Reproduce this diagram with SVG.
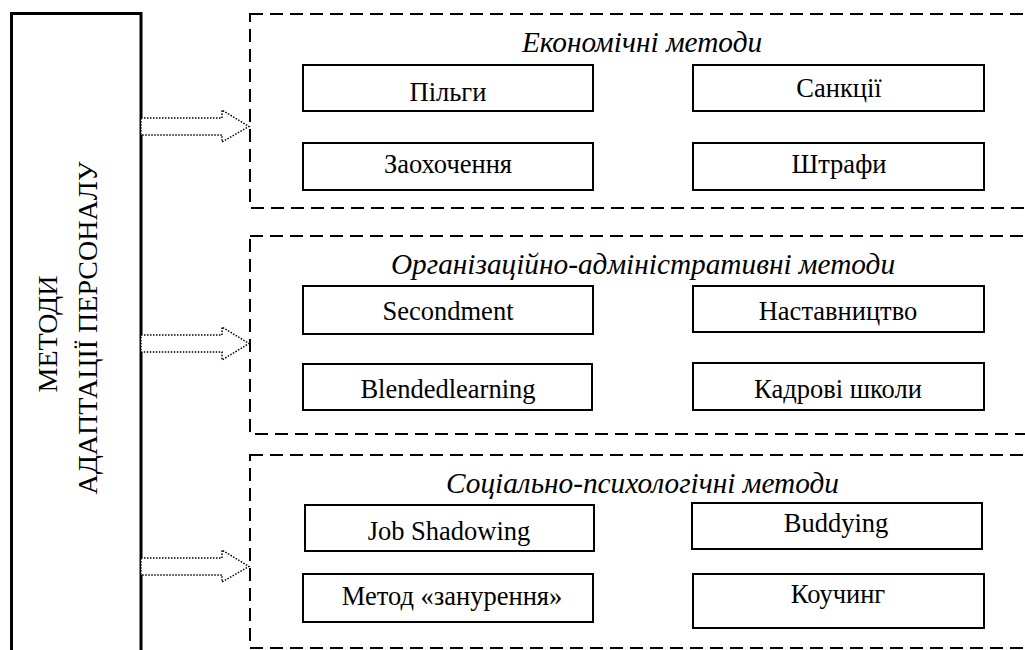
<svg xmlns="http://www.w3.org/2000/svg" width="1025" height="650" viewBox="0 0 1025 650">
<style>
  .bg { fill: #ffffff; }
  .main { fill: #ffffff; stroke: #000; stroke-width: 3; }
  .group { fill: none; stroke: #000; stroke-width: 2; stroke-dasharray: 13 7; }
  .item { fill: #ffffff; stroke: #000; stroke-width: 2; }
  .arrow { fill: #ffffff; stroke: #000; stroke-width: 1.5; stroke-dasharray: 1.5 1.5; }
  text { font-family: 'Liberation Serif', 'DejaVu Serif', serif; fill: #000; text-anchor: middle; }
  .t { font-size: 26.5px; }
  .title { font-size: 29.3px; font-style: italic; }
  .main-t { font-size: 28px; }
</style>
<rect class="bg" x="0" y="0" width="1025" height="650"/>

<g id="main-node">
  <rect class="main" x="11.5" y="13.5" width="129.5" height="700"/>
  <text class="main-t" transform="translate(57,334) rotate(-90)">МЕТОДИ</text>
  <text class="main-t" transform="translate(97,328) rotate(-90)">АДАПТАЦІЇ ПЕРСОНАЛУ</text>
</g>

<g id="group-economic">
  <rect class="group" x="250" y="14" width="800" height="194"/>
  <text class="title" x="642" y="52">Економічні методи</text>
  <g id="node-pilgy">
    <rect class="item" x="303" y="65" width="290" height="46"/>
    <text class="t" x="448" y="101">Пільги</text>
  </g>
  <g id="node-sanktsii">
    <rect class="item" x="693" y="65" width="291" height="46"/>
    <text class="t" x="839" y="97">Санкції</text>
  </g>
  <g id="node-zaokhochennia">
    <rect class="item" x="303" y="143" width="290" height="47"/>
    <text class="t" x="448" y="173">Заохочення</text>
  </g>
  <g id="node-shtrafy">
    <rect class="item" x="693" y="143" width="291" height="47"/>
    <text class="t" x="839" y="173">Штрафи</text>
  </g>
</g>

<g id="group-organizational">
  <rect class="group" x="250" y="236" width="800" height="198"/>
  <text class="title" x="643" y="274">Організаційно-адміністративні методи</text>
  <g id="node-secondment">
    <rect class="item" x="303" y="286" width="290" height="48"/>
    <text class="t" x="448" y="320">Secondment</text>
  </g>
  <g id="node-nastavnytstvo">
    <rect class="item" x="693" y="286" width="291" height="46"/>
    <text class="t" x="838" y="320">Наставництво</text>
  </g>
  <g id="node-blended">
    <rect class="item" x="303" y="364" width="289" height="46"/>
    <text class="t" x="448" y="398">Blendedlearning</text>
  </g>
  <g id="node-kadrovi">
    <rect class="item" x="693" y="363" width="291" height="47"/>
    <text class="t" x="838" y="398">Кадрові школи</text>
  </g>
</g>

<g id="group-social">
  <rect class="group" x="250" y="455" width="800" height="193"/>
  <text class="title" x="642.5" y="493">Соціально-психологічні методи</text>
  <g id="node-job-shadowing">
    <rect class="item" x="305" y="505" width="289" height="46"/>
    <text class="t" x="449" y="540">Job Shadowing</text>
  </g>
  <g id="node-buddying">
    <rect class="item" x="692" y="503" width="290" height="46"/>
    <text class="t" x="836" y="532">Buddying</text>
  </g>
  <g id="node-zanurennia">
    <rect class="item" x="303" y="574" width="290" height="48"/>
    <text class="t" x="452" y="605">Метод «занурення»</text>
  </g>
  <g id="node-kouchyng">
    <rect class="item" x="693" y="574" width="291" height="54"/>
    <text class="t" x="838" y="603">Коучинг</text>
  </g>
</g>

<g id="connectors">
  <path class="arrow" d="M141,118 L222,118 L222,110 L249,126.5 L222,142 L222,135 L141,135 Z"/>
  <path class="arrow" d="M141,335 L222,335 L222,327 L249,343.5 L222,360 L222,352 L141,352 Z"/>
  <path class="arrow" d="M141,558 L222,558 L222,550 L249,566.5 L222,582 L222,575 L141,575 Z"/>
</g>
</svg>
